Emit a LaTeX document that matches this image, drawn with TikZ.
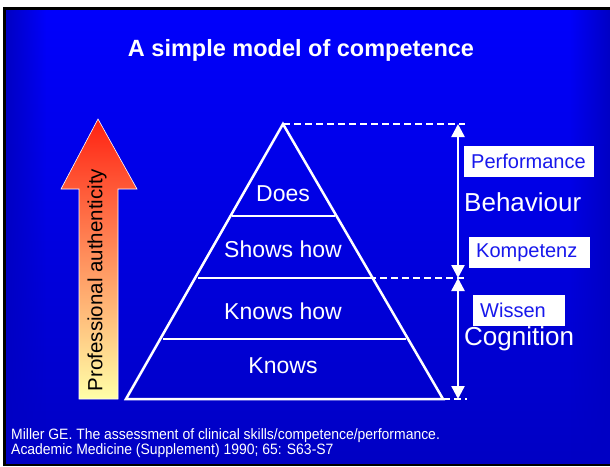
\documentclass[tikz,border=0pt]{standalone}
\usepackage{fontspec}
\setmainfont{Liberation Sans}
\newfontfamily\citefont[FakeStretch=0.93]{Liberation Sans}
\usepackage{xcolor}
\usetikzlibrary{arrows.meta,fadings}
\definecolor{slideblue}{RGB}{0,0,252}
\definecolor{slidedark}{RGB}{0,0,196}
\definecolor{tagblue}{RGB}{24,24,236}
\definecolor{tipred}{RGB}{255,34,18}
\definecolor{midorange}{RGB}{255,160,100}
\definecolor{paleyellow}{RGB}{255,255,168}

\begin{document}
\begin{tikzpicture}[x=1pt,y=-1pt,>={Triangle[width=13pt,length=13pt]},
  level/.style={white,font=\fontsize{23}{25}\selectfont},
  side/.style={white,font=\fontsize{26}{28}\selectfont,anchor=west,inner sep=0pt},
  tag/.style={fill=white,text=tagblue,font=\fontsize{20}{22}\selectfont,anchor=north west,
    inner xsep=7pt,inner ysep=0pt,minimum height=31pt,align=left},
  cite/.style={white,anchor=base west,inner sep=0pt,font=\citefont\fontsize{15}{17}\selectfont},
  guide/.style={white,line width=1.5pt,dash pattern=on 7pt off 4pt}]
  % slide frame and background
  \useasboundingbox (0,0) rectangle (610,466);
  \fill[black] (3,7) rectangle (610,466);
  \shade[top color=slideblue,bottom color=slidedark] (6,10) rectangle (610,463);
  \fill[slidedark,path fading=east] (6,10) rectangle (46,463);
  \fill[slidedark,path fading=west] (570,10) rectangle (610,463);
  \node[white,font=\bfseries\fontsize{23.5}{26}\selectfont] (title) at (301,50) {A simple model of competence};

  % arrow on the left
  \shade[top color=tipred,middle color=midorange,bottom color=paleyellow,draw=white,line width=0.6pt]
    (98,119) -- (137,189) -- (118,189) -- (118,399) -- (79,399) -- (79,189) -- (61,189) -- cycle;
  \node[rotate=90,font=\fontsize{20.5}{22}\selectfont] (auth) at (97,280) {Professional authenticity};

  % pyramid
  \coordinate (apex) at (283,124);
  \coordinate (bl) at (126,399);
  \coordinate (br) at (443,399);
  \coordinate (l1) at (232,216);  \coordinate (r1) at (335,216);
  \coordinate (l2) at (198,278);  \coordinate (r2) at (369,278);
  \coordinate (l3) at (163,339);  \coordinate (r3) at (406,339);
  \draw[white,line width=2.5pt,line join=miter] (apex) -- (br) -- (bl) -- cycle;
  \draw[white,line width=1.4pt] (l1) -- (r1);
  \draw[white,line width=2pt] (l2) -- (r2);
  \draw[white,line width=1.4pt] (l3) -- (r3);
  \node[level] (does) at (283,194) {Does};
  \node[level] (shows) at (283,249) {Shows how};
  \node[level] (knowshow) at (283,311) {Knows how};
  \node[level] (knows) at (283,366) {Knows};

  % dashed guides and the two spans
  \coordinate (top) at (458,124);
  \coordinate (mid) at (458,278);
  \coordinate (bot) at (458,399);
  \draw[guide] (apex) -- (465,124);
  \draw[guide] (r2) -- (465,278);
  \draw[guide] (br) -- (467,399);
  \draw[white,line width=2.4pt,<->] (top) -- (mid);
  \draw[white,line width=2.4pt,<->] (mid) -- (bot);

  % labels on the right
  \node[tag,text width=116pt] (perf) at (464,146) {Performance};
  \node[side] (behav) at (464,202) {Behaviour};
  \node[tag,text width=107pt] (komp) at (469,237) {Kompetenz};
  \node[tag,text width=78pt] (wissen) at (473,295) {Wissen};
  \node[side] (cogn) at (464,339) {Cognition};

  % reference
  \node[cite] (ref1) at (11,439) {Miller GE. The assessment of clinical skills/competence/performance.};
  \node[cite] (ref2) at (11,454) {Academic Medicine (Supplement) 1990; 65: S63-S7};
\end{tikzpicture}
\end{document}
